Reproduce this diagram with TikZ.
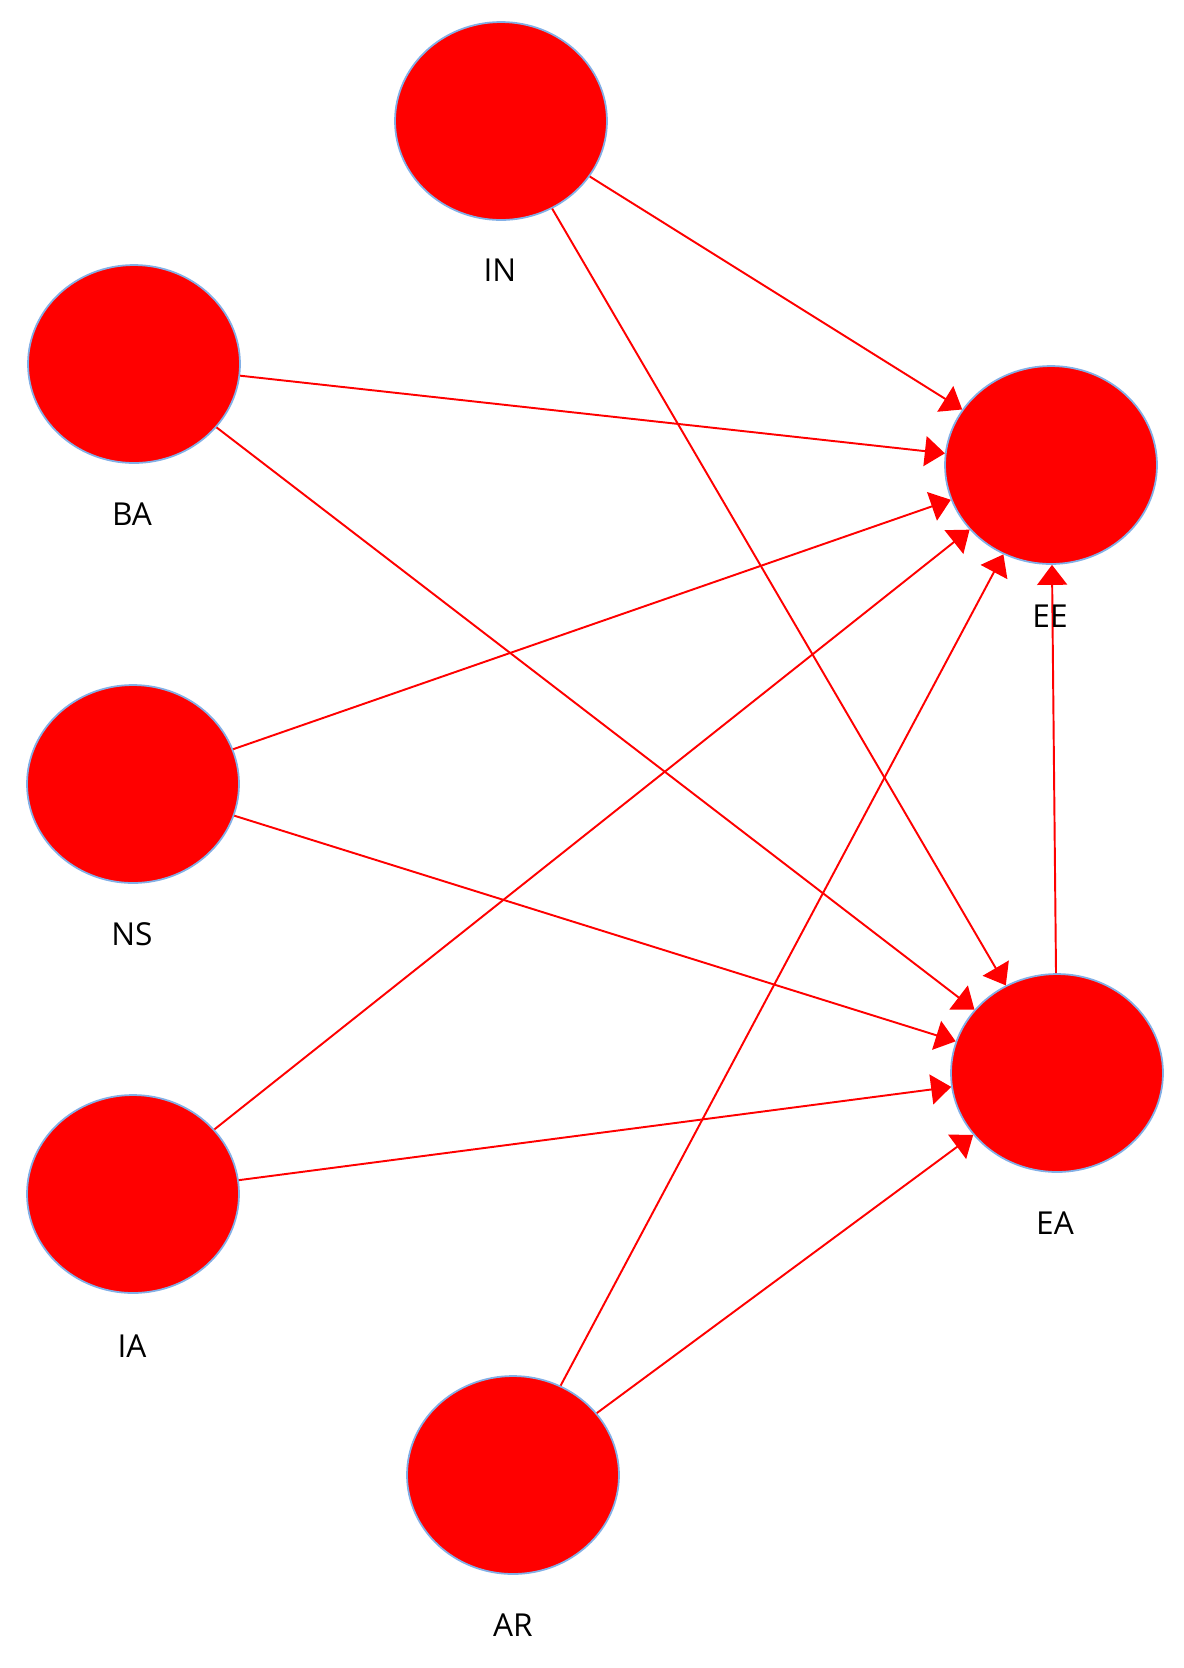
\documentclass[tikz,border=0pt]{standalone}
\usepackage{fontspec}
\setmainfont{Open Sans}
\usetikzlibrary{shapes.geometric,arrows.meta}

\definecolor{bubblered}{RGB}{255,0,0}
\definecolor{rimblue}{RGB}{130,175,230}

\tikzset{
    bubble/.style={ellipse, fill=bubblered, draw=rimblue, line width=1pt,
        minimum width=4.24cm, minimum height=3.96cm, inner sep=0pt},
    tag/.style={font=\fontsize{18}{21}\selectfont, text=black},
    link/.style={draw=bubblered, line width=1.1pt,
        -{Triangle[length=0.4cm, width=0.6cm]}}
}

\begin{document}
\begin{tikzpicture}[x=0.02cm, y=-0.02cm]
    \useasboundingbox (0,0) rectangle (1184,1668);

    % circles
    \node [bubble] (in) at (501,121) {};
    \node [bubble] (ba) at (134,364) {};
    \node [bubble] (ns) at (133,784) {};
    \node [bubble] (ia) at (133,1194) {};
    \node [bubble] (ar) at (513,1475) {};
    \node [bubble] (ee) at (1051,465) {};
    \node [bubble] (ea) at (1057,1073) {};

    % letters
    \node [tag] (inlab) at (500,270) {IN};
    \node [tag] (balab) at (132,514) {BA};
    \node [tag] (nslab) at (132,934) {NS};
    \node [tag] (ialab) at (132,1346) {IA};
    \node [tag] (arlab) at (513,1625) {AR};
    \node [tag] (ealab) at (1055,1223) {EA};

    % arrows
    \draw [link] (in) -- (ee);
    \draw [link] (in) -- (ea);
    \draw [link] (ba) -- (ee);
    \draw [link] (ba) -- (ea);
    \draw [link] (ns) -- (ee);
    \draw [link] (ns) -- (ea);
    \draw [link] (ia) -- (ee);
    \draw [link] (ia) -- (ea);
    \draw [link] (ar) -- (ee);
    \draw [link] (ar) -- (ea);
    \draw [link] (ea) -- (ee);

    % label on top of the vertical arrow
    \node [tag] (eelab) at (1050,616) {EE};
\end{tikzpicture}
\end{document}
